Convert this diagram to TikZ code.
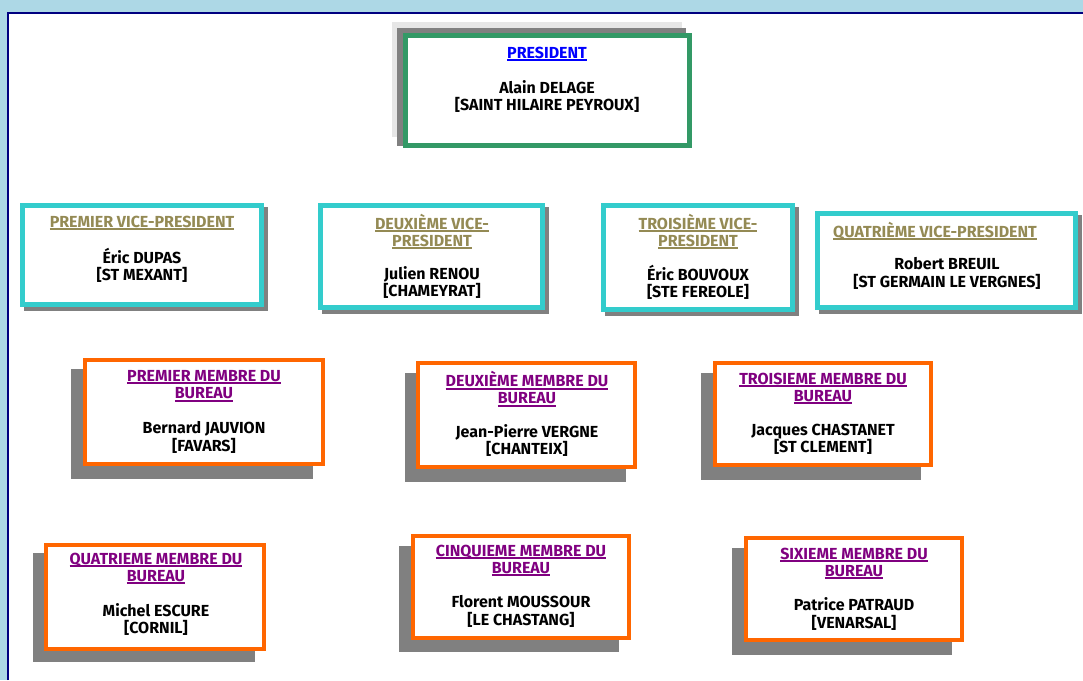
\documentclass[tikz,border=0pt]{standalone}
\usepackage{fontspec}
\setmainfont{Fira Sans}
\definecolor{frameblue}{HTML}{ADD8E6}
\definecolor{navy}{HTML}{000080}
\definecolor{presgreen}{HTML}{339966}
\definecolor{vpcyan}{HTML}{33CCCC}
\definecolor{mborange}{HTML}{FF6600}
\definecolor{shadowgray}{HTML}{808080}
\definecolor{lightshadow}{HTML}{E6E6E6}
\definecolor{olivetitle}{HTML}{948A54}
\definecolor{purpletitle}{HTML}{800080}
\definecolor{linkblue}{HTML}{0000FF}
\newcommand\myul[1]{\setbox0\hbox{#1}\rlap{\rule[-3pt]{\wd0}{2pt}}\box0}
\tikzset{
  txt/.style={font=\fontsize{16}{17.2}\selectfont\bfseries, align=center, inner sep=0pt},
  ptitle/.style={txt, text=linkblue},
  vtitle/.style={txt, text=olivetitle},
  mtitle/.style={txt, text=purpletitle},
  who/.style={txt, text=black},
  shadowbox/.style={fill=shadowgray, draw=none},
  greenbox/.style={draw=presgreen, line width=5pt, fill=white},
  cyanbox/.style={draw=vpcyan, line width=5pt, fill=white},
  orangebox/.style={draw=mborange, line width=4pt, fill=white}
}
\begin{document}
\begin{tikzpicture}[x=1pt,y=-1pt]
\useasboundingbox (0,0) rectangle (1083,680);
% page frame
\fill[frameblue] (0,0) rectangle (1083,680);
\fill[white] (9,14) rectangle (1083,680);
\draw[navy, line width=2.5pt] (8,680) -- (8,13) -- (1083,13);

% President
\fill[lightshadow] (392,22) rectangle (682,137);
\fill[shadowgray] (397,28) rectangle (686,146);
\draw[greenbox] (405.5,35.5) rectangle (689.5,145.5);
\node[ptitle] (t0) at (547,54) {\myul{PRESIDENT}};
\node[who] (n0) at (547,96.5) {Alain DELAGE\\{}[SAINT HILAIRE PEYROUX]};

% Vice-presidents
\fill[shadowgray] (24,207) rectangle (268,311);
\draw[cyanbox] (22.5,205.5) rectangle (261.5,304.5);
\node[vtitle] (t1) at (142,223) {\myul{PREMIER VICE-PRESIDENT}};
\node[who] (n1) at (142,265) {Éric DUPAS\\{}[ST MEXANT]};

\fill[shadowgray] (322,207) rectangle (549,314);
\draw[cyanbox] (320.5,205.5) rectangle (542.5,307.5);
\node[vtitle] (t2) at (432,231.5) {\myul{DEUXIÈME VICE-}\\\myul{PRESIDENT}};
\node[who] (n2) at (432,282.5) {Julien RENOU\\{}[CHAMEYRAT]};

\fill[shadowgray] (605,207) rectangle (799,316);
\draw[cyanbox] (603.5,205.5) rectangle (792.5,309.5);
\node[vtitle] (t3) at (698,231.5) {\myul{TROISIÈME VICE-}\\\myul{PRESIDENT}};
\node[who] (n3) at (698,282.5) {Éric BOUVOUX\\{}[STE FEREOLE]};

\fill[shadowgray] (819,215) rectangle (1082,314);
\draw[cyanbox] (817.5,213.5) rectangle (1075.5,307.5);
\node[vtitle] (t4) at (935,231) {\myul{QUATRIÈME VICE-PRESIDENT}};
\node[who] (n4) at (947,273.5) {Robert BREUIL\\{}[ST GERMAIN LE VERGNES]};

% Bureau members, row 1
\fill[shadowgray] (71,369) rectangle (313,479);
\draw[orangebox] (85,360) rectangle (323,464);
\node[mtitle] (t5) at (204,386) {\myul{PREMIER MEMBRE DU}\\\myul{BUREAU}};
\node[who] (n5) at (204,437.5) {Bernard JAUVION\\{}[FAVARS]};

\fill[shadowgray] (405,373) rectangle (626,482);
\draw[orangebox] (418,363) rectangle (635,467);
\node[mtitle] (t6) at (527,389) {\myul{DEUXIÈME MEMBRE DU}\\\myul{BUREAU}};
\node[who] (n6) at (527,440.5) {Jean-Pierre VERGNE\\{}[CHANTEIX]};

\fill[shadowgray] (701,373) rectangle (921,480);
\draw[orangebox] (715,363) rectangle (931,465);
\node[mtitle] (t7) at (823,388.5) {\myul{TROISIEME MEMBRE DU}\\\myul{BUREAU}};
\node[who] (n7) at (823,439) {Jacques CHASTANET\\{}[ST CLEMENT]};

% Bureau members, row 2
\fill[shadowgray] (33,553) rectangle (255,662);
\draw[orangebox] (46,545) rectangle (264,649);
\node[mtitle] (t8) at (156,568.5) {\myul{QUATRIEME MEMBRE DU}\\\myul{BUREAU}};
\node[who] (n8) at (156,619.5) {Michel ESCURE\\{}[CORNIL]};

\fill[shadowgray] (399,546) rectangle (619,652);
\draw[orangebox] (413,536) rectangle (629,638);
\node[mtitle] (t9) at (521,560.5) {\myul{CINQUIEME MEMBRE DU}\\\myul{BUREAU}};
\node[who] (n9) at (521,611.5) {Florent MOUSSOUR\\{}[LE CHASTANG]};

\fill[shadowgray] (732,548) rectangle (952,655);
\draw[orangebox] (746,538) rectangle (962,640);
\node[mtitle] (t10) at (854,563.5) {\myul{SIXIEME MEMBRE DU}\\\myul{BUREAU}};
\node[who] (n10) at (854,614) {Patrice PATRAUD\\{}[VENARSAL]};
\end{tikzpicture}
\end{document}
